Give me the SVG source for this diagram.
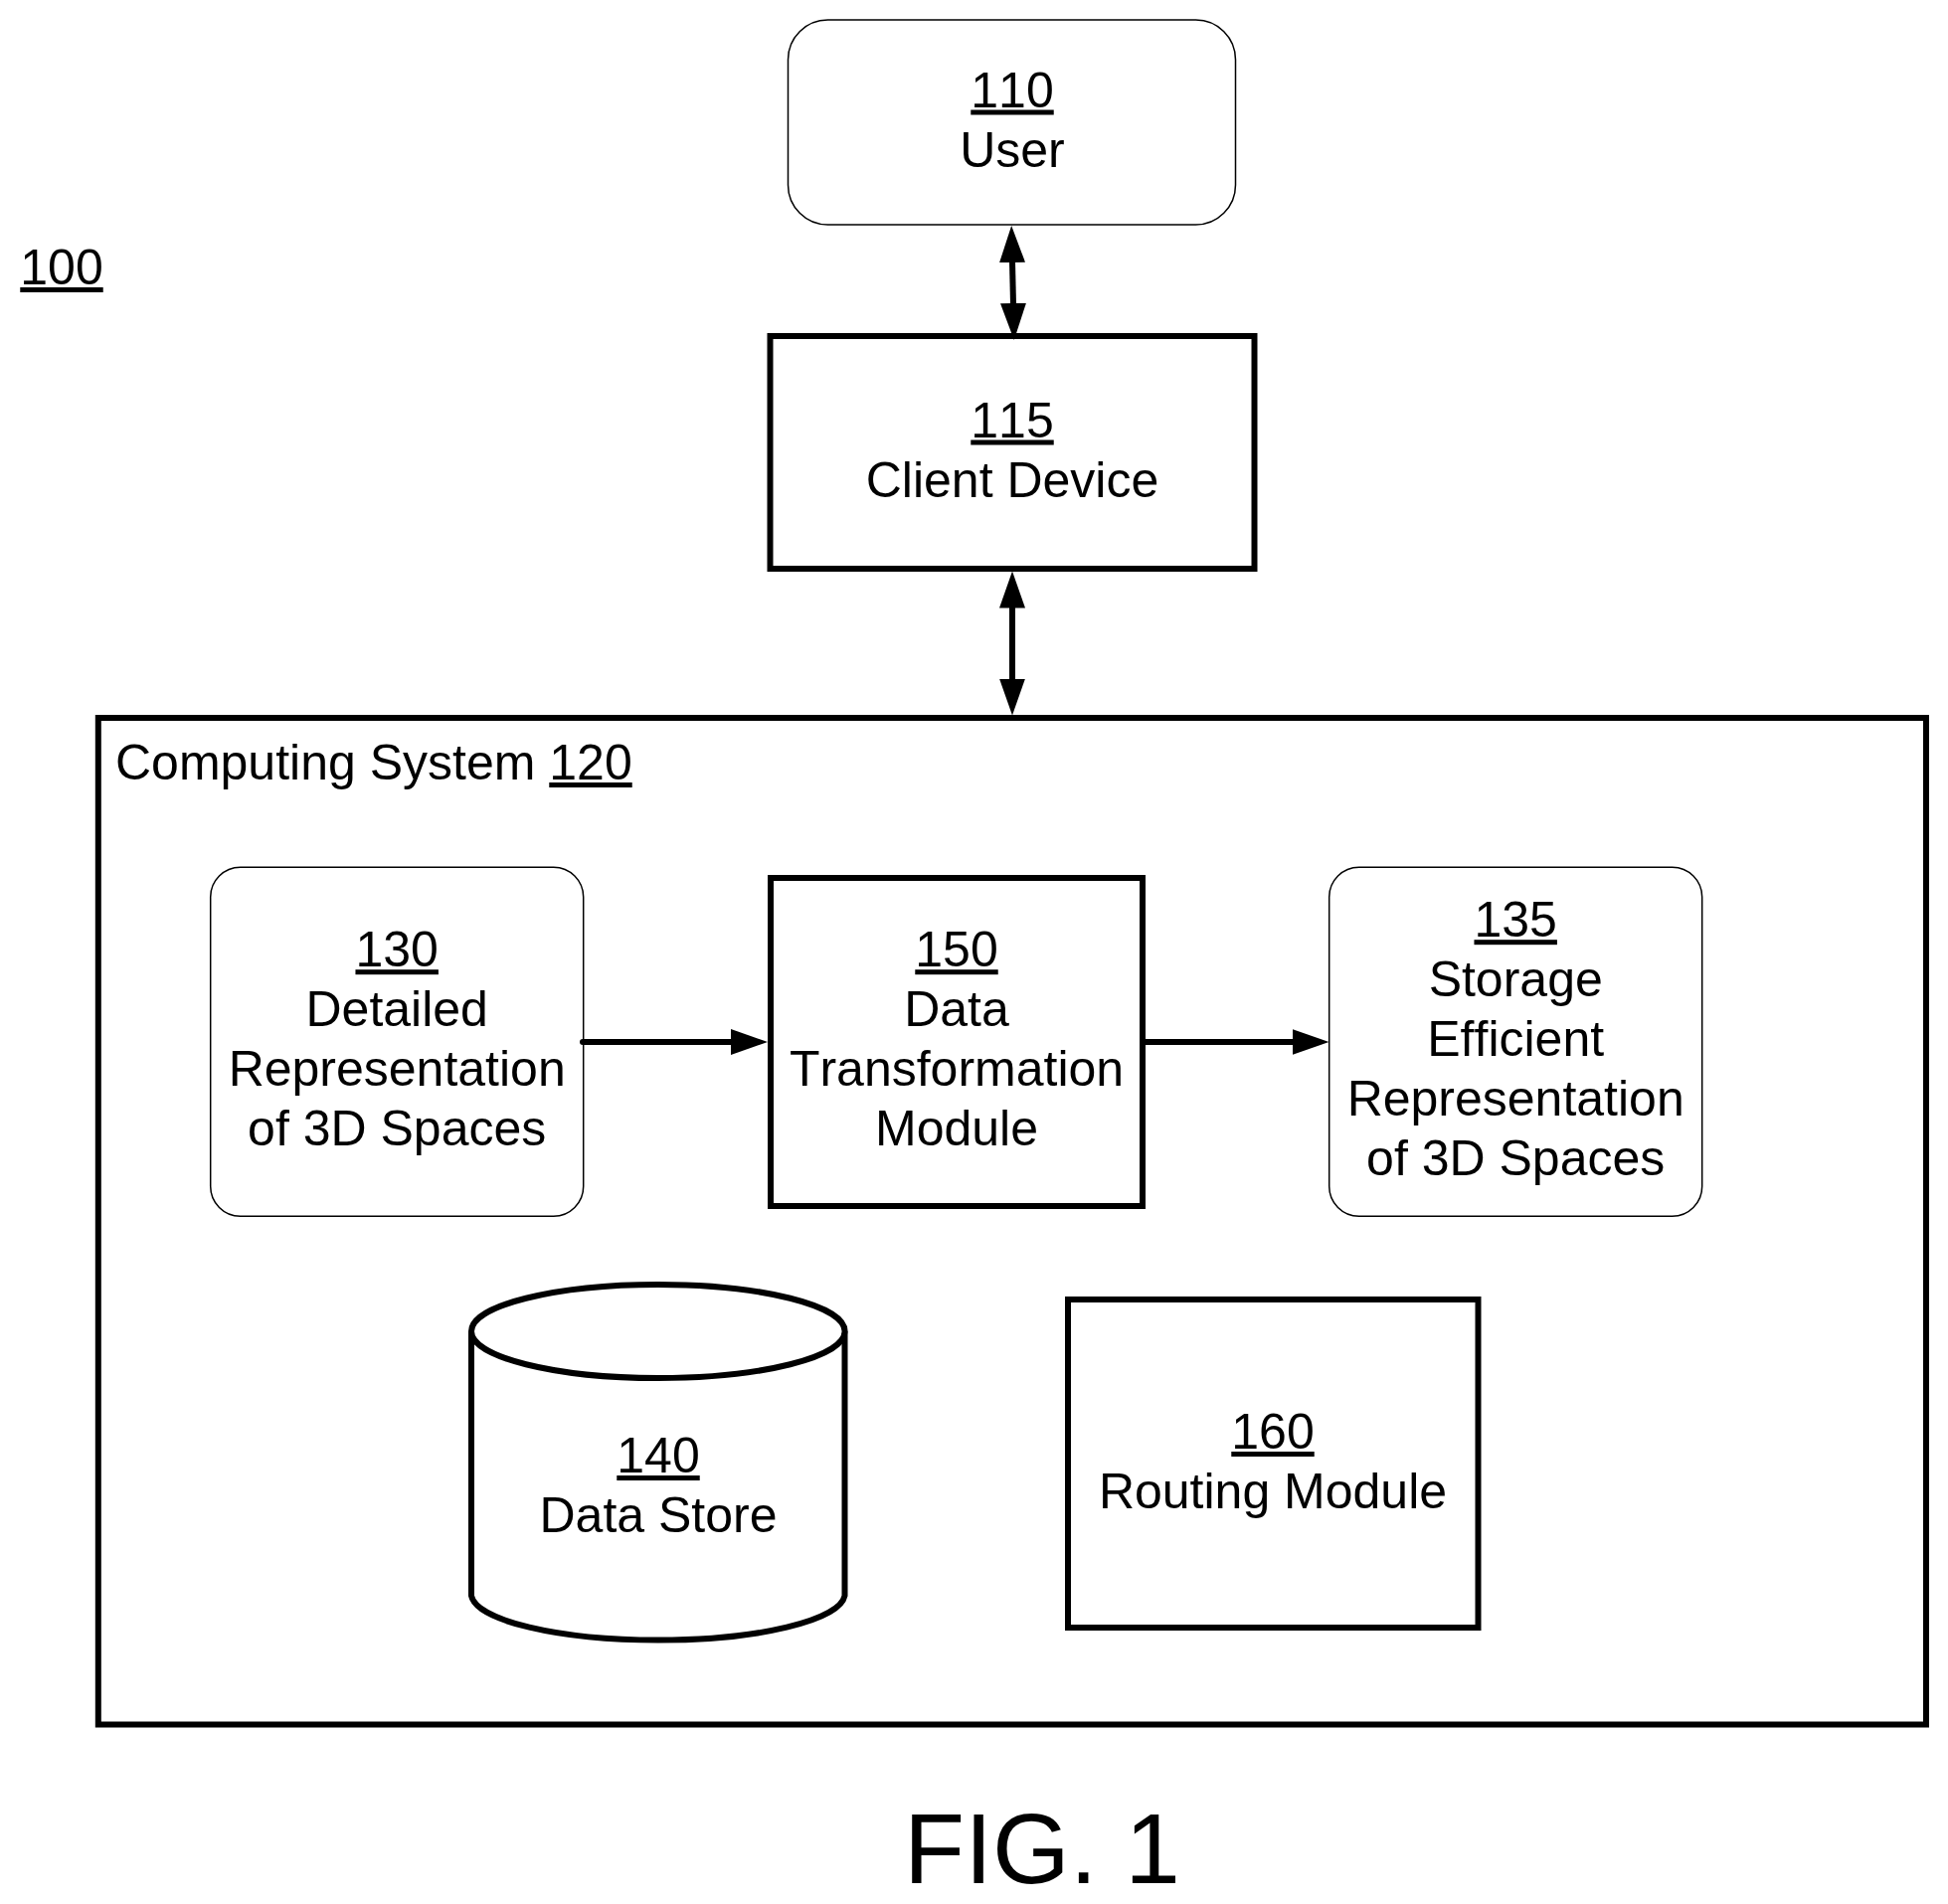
<svg xmlns="http://www.w3.org/2000/svg" width="1959" height="1915" viewBox="0 0 1959 1915">
<style>
text{font-family:"Liberation Sans",Arial,sans-serif;font-size:50px;fill:#000;font-kerning:none}
.c{text-anchor:middle}
.u{text-decoration:underline;text-decoration-thickness:5px;text-underline-offset:4px}
.thin{fill:#fff;stroke:#000;stroke-width:1.5}
.thick{fill:#fff;stroke:#000;stroke-width:6}
.conn{fill:none;stroke:#000;stroke-width:6}
.fig{font-size:100px}
</style>
<defs>
<marker id="ah" markerUnits="userSpaceOnUse" markerWidth="38" markerHeight="26" refX="1" refY="13" orient="auto-start-reverse"><path d="M0 0L37 13L0 26Z" fill="#000"/></marker>
</defs>
<rect width="1959" height="1915" fill="#fff"/>
<g id="label-100"><text class="c u" x="62" y="286">100</text></g>
<g id="n110"><rect class="thin" x="792.5" y="20" width="450" height="206" rx="40" ry="40"/><text class="c" x="1018" y="107.5"><tspan class="u">110</tspan></text><text class="c" x="1018" y="167.5">User</text></g>
<g id="n115"><rect class="thick" x="774.5" y="338" width="487" height="234"/><text class="c" x="1018" y="439.5"><tspan class="u">115</tspan></text><text class="c" x="1018" y="499.5">Client Device</text></g>
<g id="n120"><rect class="thick" x="98.8" y="722" width="1838.2" height="1012.5"/><text x="116" y="784">Computing System <tspan class="u">120</tspan></text></g>
<g id="n130"><rect class="thin" x="211.7" y="872.3" width="375" height="351" rx="30" ry="30"/><text class="c" x="399.2" y="972.2"><tspan class="u">130</tspan></text><text class="c" x="399.2" y="1032.2">Detailed</text><text class="c" x="399.2" y="1092.2">Representation</text><text class="c" x="399.2" y="1152.2">of 3D Spaces</text></g>
<g id="n150"><rect class="thick" x="775" y="883" width="374" height="330"/><text class="c" x="962" y="972.2"><tspan class="u">150</tspan></text><text class="c" x="962" y="1032.2">Data</text><text class="c" x="962" y="1092.2">Transformation</text><text class="c" x="962" y="1152.2">Module</text></g>
<g id="n135"><rect class="thin" x="1336.7" y="872.3" width="375" height="351" rx="30" ry="30"/><text class="c" x="1524.2" y="942.2"><tspan class="u">135</tspan></text><text class="c" x="1524.2" y="1002.2">Storage</text><text class="c" x="1524.2" y="1062.2">Efficient</text><text class="c" x="1524.2" y="1122.2">Representation</text><text class="c" x="1524.2" y="1182.2">of 3D Spaces</text></g>
<g id="n140"><path class="thick" d="M474 1339V1605A188 47 0 0 0 849.5 1605V1339"/><ellipse class="thick" cx="661.8" cy="1339" rx="187.8" ry="47"/><text class="c" x="662" y="1481"><tspan class="u">140</tspan></text><text class="c" x="662" y="1541">Data Store</text></g>
<g id="n160"><rect class="thick" x="1074" y="1307" width="412.5" height="330"/><text class="c" x="1280" y="1457"><tspan class="u">160</tspan></text><text class="c" x="1280" y="1517">Routing Module</text></g>
<g id="connectors">
<line class="conn" x1="1018" y1="263" x2="1019" y2="306" marker-start="url(#ah)" marker-end="url(#ah)"/>
<line class="conn" x1="1018" y1="610.5" x2="1018" y2="683.5" marker-start="url(#ah)" marker-end="url(#ah)"/>
<line class="conn" x1="586" y1="1048" x2="736" y2="1048" stroke-linecap="round" marker-end="url(#ah)"/>
<line class="conn" x1="1151" y1="1048" x2="1300.5" y2="1048" marker-end="url(#ah)"/>
</g>
<g id="caption"><text class="c fig" x="1048" y="1894">FIG. 1</text></g>
</svg>
